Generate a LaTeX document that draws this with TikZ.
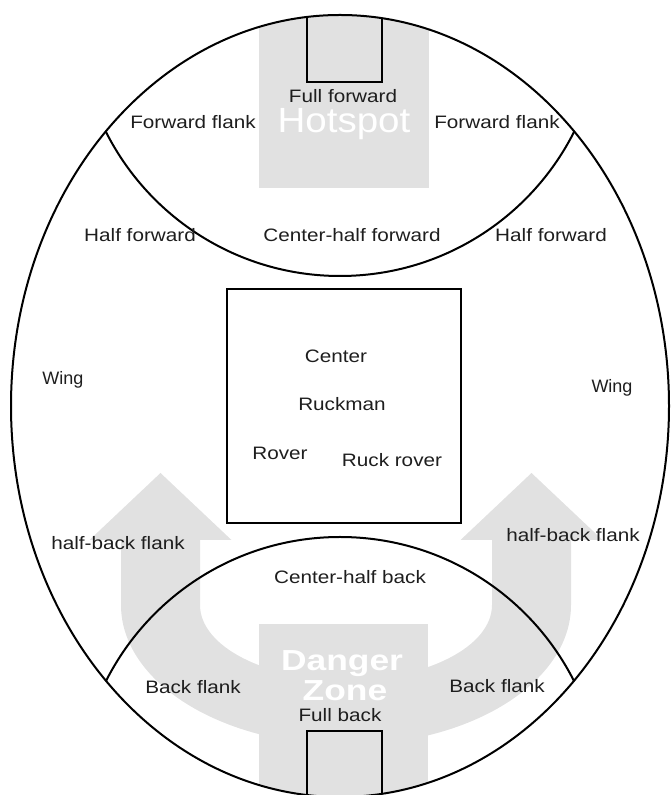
\documentclass[tikz,border=0pt]{standalone}
\usepackage{fontspec}
\setmainfont{Liberation Sans}
\newfontfamily\labfont[FakeStretch=1.15]{Liberation Sans}
\newfontfamily\plainfont{Liberation Sans}
\newfontfamily\hotfont[FakeStretch=1.1]{Liberation Sans}
\newfontfamily\dzfont[FakeStretch=1.22]{Liberation Sans}
\definecolor{zonegray}{RGB}{225,225,225}
\definecolor{ink}{RGB}{30,30,30}
\begin{document}
\begin{tikzpicture}[x=1pt,y=1pt,
  outline/.style={draw=black,line width=2pt},
  lab/.style={font=\labfont\fontsize{18}{20}\selectfont,text=ink,inner sep=0pt,text height=13pt,text depth=0pt},
  winglab/.style={font=\plainfont\fontsize{18}{20}\selectfont,text=ink,inner sep=0pt,text height=13pt,text depth=0pt},
  hotlab/.style={font=\hotfont\fontsize{35}{38}\selectfont,text=white,inner sep=0pt,text height=25pt,text depth=0pt},
  dzlab/.style={font=\dzfont\bfseries\fontsize{29}{32}\selectfont,text=white,inner sep=0pt,text height=21pt,text depth=0pt}]
\useasboundingbox (0,0) rectangle (670,795);
\begin{scope}
  \clip (340,389) ellipse [x radius=329pt, y radius=391pt];
  % grey zones
  \fill[zonegray] (259,607) rectangle (429,800);
  \fill[zonegray] (259,171) rectangle (428,-10);
  \fill[zonegray] (121,190) arc[start angle=180,end angle=360,x radius=225pt,y radius=140pt]
     -- (571,255) -- (602.5,255) -- (531.5,322) -- (460.5,255) -- (492,255) -- (492,190)
     arc[start angle=0,end angle=-180,x radius=146pt,y radius=75pt]
     -- (200,255) -- (231.5,255) -- (160.5,322) -- (89.5,255) -- (121,255) -- cycle;
  % goal squares
  \draw[outline] (307,800) -- (307,713) -- (382,713) -- (382,800);
  \draw[outline] (307,-10) -- (307,64) -- (382,64) -- (382,-10);
  % 50 m arcs
  \draw[outline] (340,781) circle[radius=262pt];
  \draw[outline] (340,-4) circle[radius=262pt];
\end{scope}
\draw[outline] (340,389) ellipse [x radius=329pt, y radius=391pt];
\draw[outline] (227,272) rectangle (461,506);

\node[hotlab] (hotspot) at (344,675) {Hotspot};
\node[dzlab] (danger) at (342,135) {Danger};
\node[dzlab] (zone) at (345,105) {Zone};

\node[lab] (ffL) at (193,673) {Forward flank};
\node[lab] (fullfwd) at (343,699) {Full forward};
\node[lab] (ffR) at (497,673) {Forward flank};
\node[lab] (hfL) at (140,560) {Half forward};
\node[lab] (chf) at (352,560) {Center-half forward};
\node[lab] (hfR) at (551,560) {Half forward};
\node[winglab] (wingL) at (63,417) {Wing};
\node[winglab] (wingR) at (612,409) {Wing};
\node[lab] (center) at (336,439) {Center};
\node[lab] (ruckman) at (342,391) {Ruckman};
\node[lab] (rover) at (280,342) {Rover};
\node[lab] (ruckrover) at (392,335) {Ruck rover};
\node[lab] (hbfL) at (118,252) {half-back flank};
\node[lab] (hbfR) at (573,260) {half-back flank};
\node[lab] (chb) at (350,218) {Center-half back};
\node[lab] (fullback) at (340,80) {Full back};
\node[lab] (bfL) at (193,108) {Back flank};
\node[lab] (bfR) at (497,109) {Back flank};
\end{tikzpicture}
\end{document}
